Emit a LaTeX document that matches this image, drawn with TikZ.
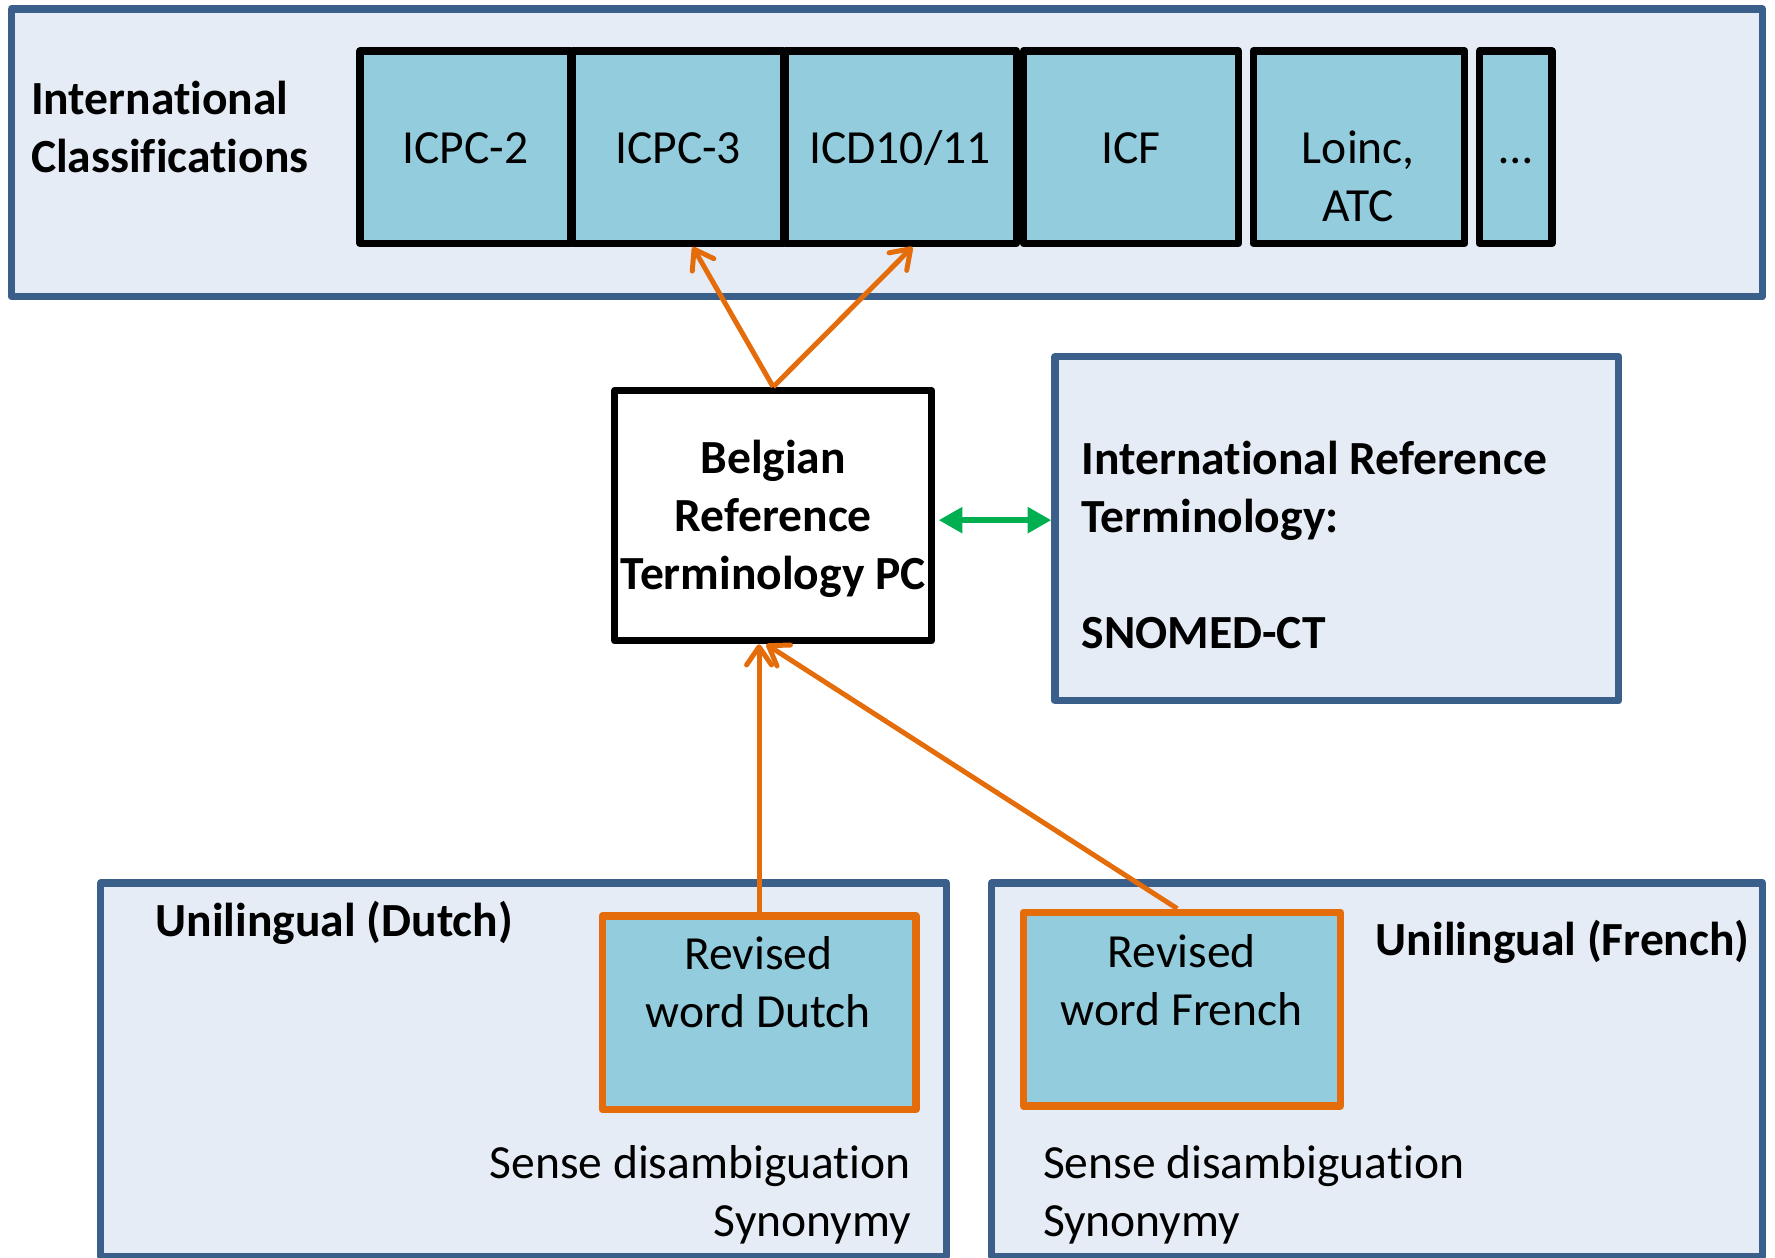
\documentclass[tikz,border=0pt]{standalone}
\usepackage{fontspec}
\setmainfont{Carlito}[Ligatures={NoCommon}]
\usetikzlibrary{arrows.meta,fit,calc}
\definecolor{frameblue}{HTML}{3A5F8B}
\definecolor{framefill}{HTML}{E6ECF5}
\definecolor{boxteal}{HTML}{93CDDD}
\definecolor{orng}{HTML}{E46C0A}
\definecolor{grn}{HTML}{00B050}
\newcommand\fst{\rule{0pt}{20pt}}
\begin{document}
\begin{tikzpicture}[x=0.5pt,y=-0.5pt,
  frame/.style={draw=frameblue, fill=framefill, line width=3.2pt, inner sep=0pt, line join=round},
  cls/.style={draw=black, fill=boxteal, line width=3.2pt, inner sep=0pt, line join=round},
  wbox/.style={draw=black, fill=white, line width=3.2pt, inner sep=0pt, line join=round},
  obox/.style={draw=orng, fill=boxteal, line width=3.3pt, inner sep=0pt, line join=round},
  lbl/.style={inner sep=0pt, font=\fontsize{21}{25.6}\selectfont},
  blbl/.style={inner sep=0pt, font=\fontsize{21}{25.6}\selectfont\bfseries},
  oarr/.style={draw=orng, line width=2.2pt, -{Straight Barb[length=8pt,width=11pt,round]}},
  garr/.style={draw=grn, line width=2.8pt, {Triangle[length=10.5pt,width=11pt]}-{Triangle[length=10.5pt,width=11pt]}}
]
\useasboundingbox (0,0) rectangle (1568,1111);
% frames
\node[frame, fit={(10,8) (1557,262)}] (top) {};
\node[frame, fit={(932,315) (1430,619)}] (irt) {};
\node[frame, fit={(89,780) (836,1110)}] (dutch) {};
\node[frame, fit={(876,780) (1557,1110)}] (french) {};
% classification boxes
\node[cls, fit={(318,45) (504,215)}] (icpc2) {};
\node[cls, fit={(506,45) (692,215)}] (icpc3) {};
\node[cls, fit={(694,45) (898,215)}] (icd) {};
\node[cls, fit={(904,45) (1094,215)}] (icf) {};
\node[cls, fit={(1107,45) (1294,215)}] (loinc) {};
\node[cls, fit={(1307,45) (1371,215)}] (more) {};
% central boxes
\node[wbox, fit={(543,345) (823,566)}] (bel) {};
\node[obox, fit={(532,809) (809,980)}] (rd) {};
\node[obox, fit={(904,806) (1184,977)}] (rf) {};
% texts
\node[blbl, anchor=north west, align=left] (tic) at (27,61) {\fst International\\Classifications};
\node[lbl, anchor=base] (ticpc2) at (411,144) {ICPC-2};
\node[lbl, anchor=base] (ticpc3) at (599,144) {ICPC-3};
\node[lbl, anchor=base] (ticd) at (795,144) {ICD10/11};
\node[lbl, anchor=base] (ticf) at (999,144) {ICF};
\node[lbl, anchor=north, align=center] (tloinc) at (1200,104) {\fst Loinc,\\ATC};
\node[lbl, anchor=base] (tmore) at (1339,144) {…};
\node[blbl, anchor=north, align=center] (tbel) at (683,378) {\fst Belgian\\Reference\\Terminology PC};
\node[blbl, anchor=north west, align=left] (tirt) at (955,379) {\fst International Reference\\Terminology:\\[25.6pt]SNOMED-CT};
\node[blbl, anchor=base west] (tud) at (137,827) {Unilingual (Dutch)};
\node[blbl, anchor=base west] (tuf) at (1215,844) {Unilingual (French)};
\node[lbl, anchor=north, align=center] (trd) at (670,816) {\fst Revised\\word Dutch};
\node[lbl, anchor=north, align=center] (trf) at (1044,814) {\fst Revised\\word French};
\node[lbl, anchor=north east, align=right] (tsd) at (805,1001) {\fst Sense disambiguation\\Synonymy};
\node[lbl, anchor=north west, align=left] (tsf) at (921,1001) {\fst Sense disambiguation\\Synonymy};
% connectors
\draw[oarr] (bel.north) -- ([xshift=6.5pt]icpc3.south);
\draw[oarr] (bel.north) -- ([xshift=5pt]icd.south);
\draw[oarr] (rd.north) -- (rd.north |- bel.south);
\draw[oarr] ([xshift=-2pt]rf.north) -- ([xshift=-3pt]bel.south);
\coordinate (g1) at ([yshift=-2pt]bel.east);
\draw[garr] ([xshift=1.5pt]g1) -- (g1 -| irt.west);
\end{tikzpicture}
\end{document}
